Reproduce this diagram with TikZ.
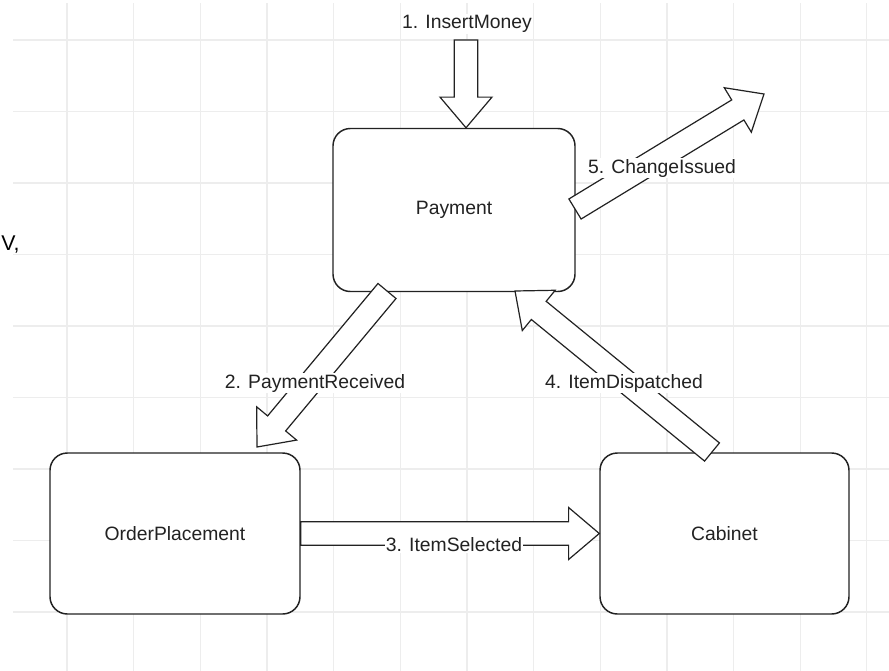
\documentclass[tikz,border=0pt]{standalone}
\usepackage{fontspec}
\setmainfont{Liberation Sans}
\usetikzlibrary{calc}
\definecolor{gridgray}{HTML}{EDEDED}
\definecolor{inkgray}{HTML}{222222}
\tikzset{
  box/.style={draw=inkgray, line width=1.1pt, rounded corners=13pt, fill=white,
    font=\fontsize{14.5}{17}\selectfont, text=inkgray, inner sep=0pt},
  flowline/.style={draw=inkgray, line width=0.9pt, fill=white, line join=miter},
  flowlabel/.style={fill=white, inner sep=1pt, font=\fontsize{14.5}{17}\selectfont, text=inkgray},
  gridline/.style={draw=gridgray, line width=0.9pt}
}
% hollow block arrow from #1 (tail) to #2 (tip)
\newcommand\blockarrow[2]{%
  \coordinate (ba-t) at (#1);
  \coordinate (ba-h) at (#2);
  \coordinate (ba-b) at ($(ba-h)!23pt!(ba-t)$);
  \draw[flowline]
    ($(ba-t)!8.8pt!90:(ba-h)$) -- ($(ba-b)!8.8pt!90:(ba-h)$) --
    ($(ba-b)!19.5pt!90:(ba-h)$) -- (ba-h) --
    ($(ba-b)!19.5pt!-90:(ba-h)$) -- ($(ba-b)!8.8pt!-90:(ba-h)$) --
    ($(ba-t)!8.8pt!-90:(ba-h)$) -- cycle;
}
\begin{document}
\begin{tikzpicture}[x=0.75pt, y=-0.75pt]
\useasboundingbox (0,0) rectangle (889,671);
\fill[white] (0,0) rectangle (889,671);
\clip (0,0) rectangle (889,671);

% background grid
\foreach \k in {1,...,13} \draw[gridline] ({0.4+66.65*\k},3) -- ({0.4+66.65*\k},671);
\foreach \k in {0,...,8} \draw[gridline] (13,{40+71.5*\k}) -- (889,{40+71.5*\k});

% stray text at the left edge
\node[anchor=base west, inner sep=0pt, text=black, font=\fontsize{16}{19}\selectfont] (edge) at (1,250) {V,};

% states
\node[box, minimum width=181.5pt, minimum height=122.25pt] (pay) at (454,210) {Payment};
\node[box, minimum width=187.5pt, minimum height=120.75pt] (order) at (175,533.5) {OrderPlacement};
\node[box, minimum width=186.75pt, minimum height=120.75pt] (cab) at (724.5,533.5) {Cabinet};

% arrow end points
\coordinate (in1) at (466,40);
\coordinate (in1tip) at (pay.north -| in1);
\coordinate (pr-t) at (387,291);
\coordinate (pr-h) at (257,447);
\coordinate (is-t) at (order.east);
\coordinate (is-h) at (cab.west);
\coordinate (id-t) at (712,452);
\coordinate (id-h) at (515,291);
\coordinate (ci-t) at (575,209);
\coordinate (ci-h) at (764,94);

% transitions
\blockarrow{in1}{in1tip}
\blockarrow{pr-t}{pr-h}
\blockarrow{is-t}{is-h}
\blockarrow{id-t}{id-h}
\blockarrow{ci-t}{ci-h}

% transition labels
\node[flowlabel] (l1) at (467,24) {1. InsertMoney};
\node[flowlabel] (l2) at (315,383) {2. PaymentReceived};
\node[flowlabel] (l3) at (454,545) {3. ItemSelected};
\node[flowlabel] (l4) at (624,383) {4. ItemDispatched};
\node[flowlabel] (l5) at (662,168) {5. ChangeIssued};
\end{tikzpicture}
\end{document}
